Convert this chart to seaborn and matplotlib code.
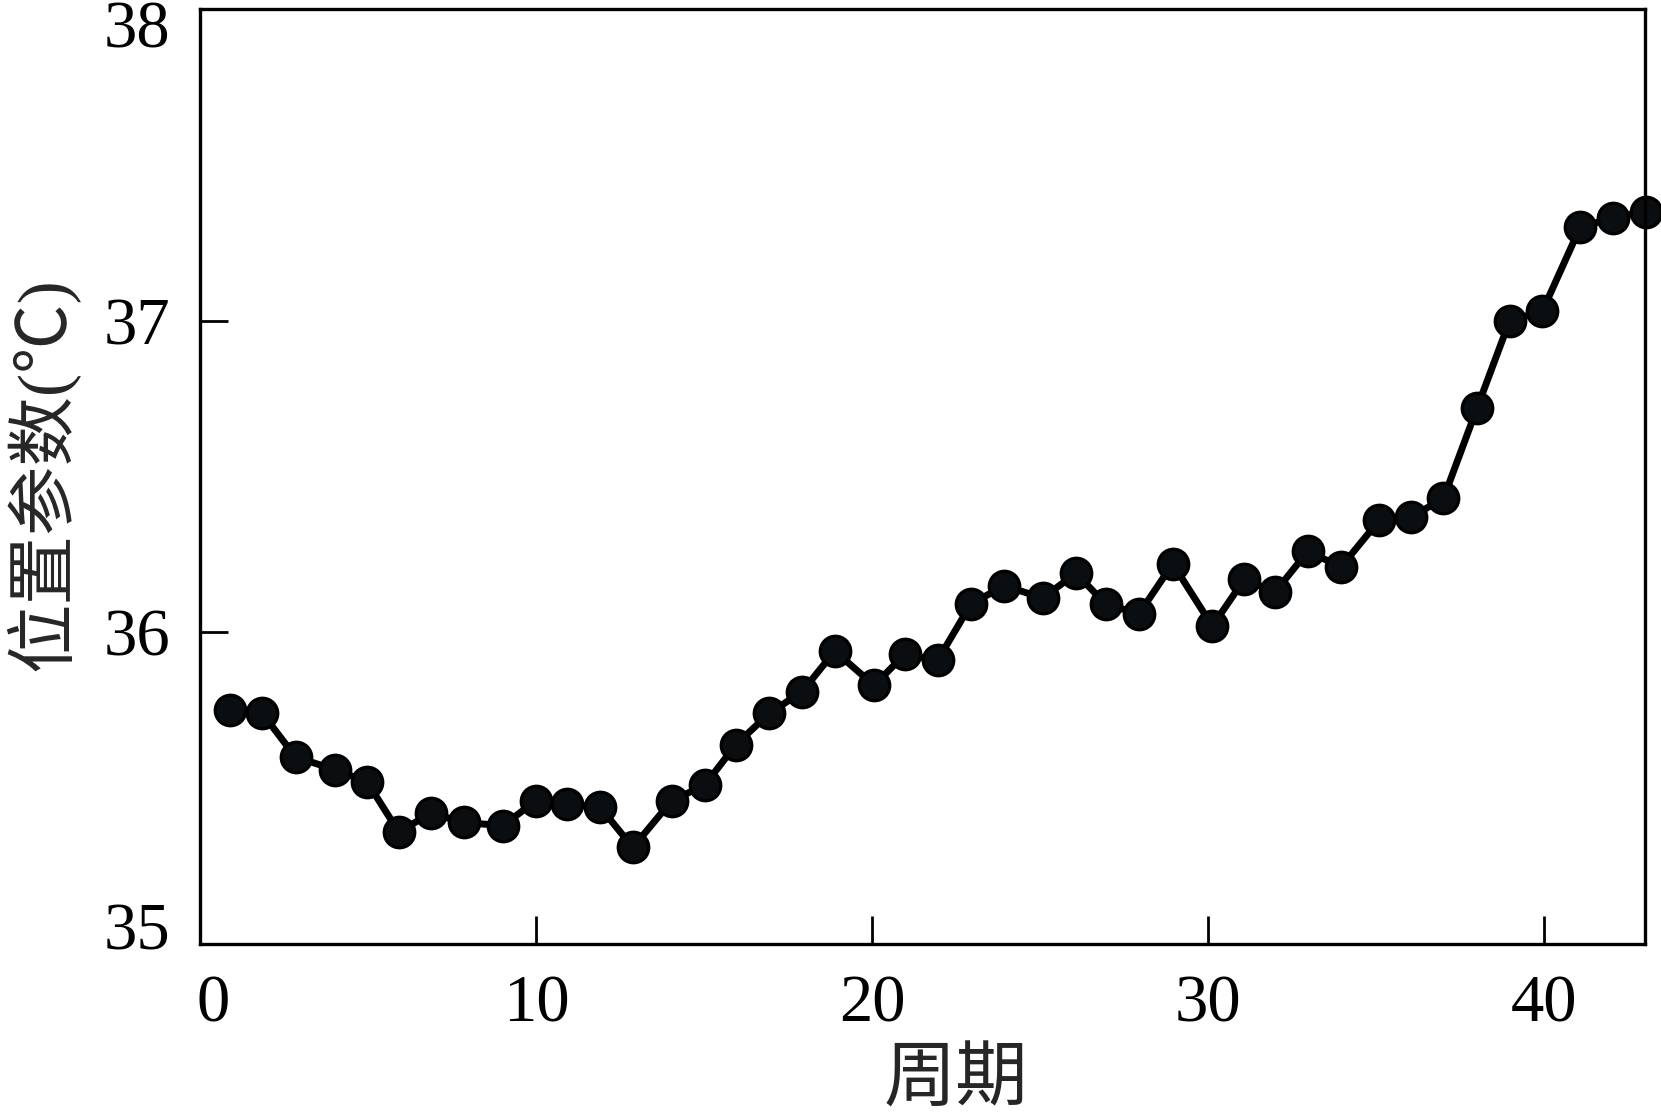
import matplotlib
matplotlib.use("Agg")
import matplotlib.pyplot as plt
import matplotlib.transforms as mtransforms
import seaborn as sns

# values
period = [0.88, 1.84, 2.83, 3.99, 4.96, 5.90, 6.87, 7.84, 9.00, 9.99,
          10.91, 11.89, 12.87, 14.03, 15.01, 15.94, 16.93, 17.91, 18.88, 20.05,
          20.97, 21.94, 22.93, 23.92, 25.07, 26.06, 26.95, 27.94, 28.94, 30.12,
          31.07, 31.99, 32.96, 33.95, 35.09, 36.04, 37.00, 38.00, 38.97, 39.94,
          41.07, 42.06, 43.02]
location = [35.75, 35.74, 35.60, 35.56, 35.52, 35.36, 35.42, 35.39, 35.38, 35.46,
            35.45, 35.44, 35.31, 35.46, 35.51, 35.64, 35.74, 35.81, 35.94, 35.83,
            35.93, 35.91, 36.09, 36.15, 36.11, 36.19, 36.09, 36.06, 36.22, 36.02,
            36.17, 36.13, 36.26, 36.21, 36.36, 36.37, 36.43, 36.72, 37.00, 37.03,
            37.30, 37.33, 37.35]
x_ticks = [0, 10, 20, 30, 40]
y_ticks = [35, 36, 37, 38]
x_label = "周期"
y_label = "位置参数(℃)"

sns.set_style("ticks")
plt.rcParams["font.family"] = ["Liberation Serif", "Noto Sans CJK SC"]
plt.rcParams["axes.unicode_minus"] = False

fig = plt.figure(figsize=(16.61, 11.13), dpi=100)
ax = fig.add_axes([0.1207, 0.1518, 0.8697, 0.8401])

sns.lineplot(x=period, y=location, ax=ax, color="black", linewidth=5,
             marker="o", markersize=22, markerfacecolor="#0b0e10",
             markeredgecolor="black", markeredgewidth=2.3,
             clip_on=False, sort=False)

ax.set_xlim(0, 43)
ax.set_ylim(35, 38)
ax.set_xticks(x_ticks)
ax.set_yticks(y_ticks)

for side in ["left", "right", "top", "bottom"]:
    ax.spines[side].set_visible(True)
    ax.spines[side].set_linewidth(2.4)
    ax.spines[side].set_color("black")

ax.tick_params(axis="both", direction="in", length=20, width=2, pad=22,
               labelsize=48, colors="black", top=False, right=False)

ax.set_xlabel(x_label, fontsize=52)
ax.set_ylabel(y_label, fontsize=50)
ax.xaxis.set_label_coords(0.523, -0.112)
ax.yaxis.set_label_coords(-0.084, 0.503)

# end labels sit a little inside the frame in the reference
def nudge(label, dx, dy):
    label.set_transform(label.get_transform() +
                        mtransforms.ScaledTranslation(dx, dy, fig.dpi_scale_trans))

yt = ax.yaxis.get_major_ticks()
nudge(yt[-1].label1, 0, -0.15)
nudge(yt[0].label1, 0, 0.18)
xt = ax.xaxis.get_major_ticks()
nudge(xt[0].label1, 0.13, 0)

fig.savefig("out.png", dpi=100)
